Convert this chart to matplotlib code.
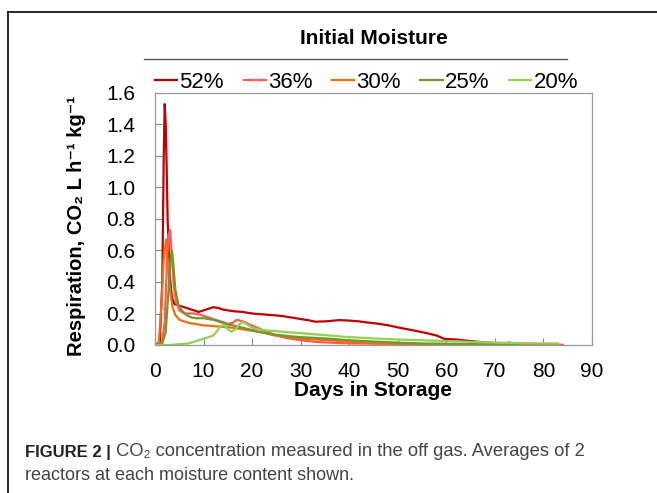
import matplotlib
matplotlib.use('Agg')
import matplotlib.pyplot as plt
from matplotlib.lines import Line2D

# Dados (dias, respiração)
d52 = [0, 1.0, 1.5, 1.8, 2.0, 2.2, 2.4, 2.6, 3.0, 3.5, 4, 5, 6, 7, 8, 9, 10, 11, 12, 13, 14, 16, 18, 20,
       22, 24, 26, 28, 30, 32, 33, 35, 38, 40, 42, 44, 46, 48, 50, 52, 54, 56, 58, 59.5, 60, 62, 64, 66,
       68, 70, 72, 73, 74, 76, 78, 80, 82, 84]
v52 = [0, 0.02, 0.4, 1.2, 1.53, 1.4, 1.13, 0.8, 0.45, 0.3, 0.26, 0.25, 0.24, 0.23, 0.22, 0.21, 0.22, 0.23,
       0.24, 0.235, 0.225, 0.215, 0.21, 0.2, 0.195, 0.19, 0.185, 0.175, 0.165, 0.155, 0.148, 0.15, 0.158,
       0.155, 0.15, 0.142, 0.135, 0.125, 0.112, 0.1, 0.088, 0.075, 0.06, 0.04, 0.038, 0.035, 0.028, 0.022,
       0.016, 0.012, 0.01, 0.015, 0.008, 0.006, 0.005, 0.004, 0.003, 0.0]

d36 = [0, 1.5, 2.0, 2.5, 2.8, 3.1, 3.4, 3.8, 4.3, 5, 6, 7, 8, 9, 10, 11, 12, 13, 14, 15, 16, 16.8, 17.5,
       18.5, 19.5, 21, 23, 25, 27, 30, 33, 36, 40, 45, 50, 55, 60, 65, 70, 72, 73, 74, 76, 80, 84]
v36 = [0, 0.02, 0.15, 0.55, 0.7, 0.73, 0.6, 0.4, 0.28, 0.22, 0.2, 0.2, 0.2, 0.195, 0.185, 0.175, 0.165,
       0.155, 0.145, 0.135, 0.14, 0.16, 0.155, 0.145, 0.13, 0.11, 0.085, 0.06, 0.045, 0.03, 0.02, 0.015,
       0.01, 0.008, 0.006, 0.005, 0.004, 0.004, 0.004, 0.008, 0.012, 0.006, 0.003, 0.002, 0.0]

d30 = [0, 0.8, 1.3, 1.8, 2.3, 2.7, 3.1, 3.6, 4.2, 5, 6, 7, 8, 9, 10, 12, 14, 16, 18, 20, 22, 24, 26, 28,
       30, 33, 36, 40, 45, 50, 55, 60, 65, 70, 75]
v30 = [0, 0.02, 0.25, 0.55, 0.67, 0.5, 0.35, 0.24, 0.19, 0.16, 0.15, 0.14, 0.135, 0.13, 0.125, 0.12,
       0.115, 0.11, 0.1, 0.09, 0.08, 0.065, 0.055, 0.045, 0.04, 0.035, 0.03, 0.02, 0.012, 0.008, 0.005,
       0.004, 0.003, 0.002, 0.0]

d25 = [0, 1.5, 2.2, 2.8, 3.2, 3.5, 3.8, 4.2, 4.8, 5.5, 6.5, 7.5, 8.5, 10, 11, 12, 13, 14, 15, 16, 18, 20,
       22, 25, 28, 30, 33, 36, 40, 45, 50, 55, 60, 65, 70, 75]
v25 = [0, 0.01, 0.08, 0.35, 0.55, 0.6, 0.5, 0.35, 0.26, 0.22, 0.19, 0.175, 0.17, 0.17, 0.165, 0.16, 0.15,
       0.14, 0.13, 0.125, 0.11, 0.095, 0.08, 0.065, 0.055, 0.05, 0.045, 0.04, 0.03, 0.022, 0.015, 0.01,
       0.008, 0.005, 0.003, 0.0]

d20 = [0, 3, 5, 7, 8, 9, 10, 11, 12, 12.8, 13.5, 14.2, 15, 15.7, 16.5, 17.3, 18.2, 19, 20, 21, 22, 24, 26,
       28, 30, 33, 36, 40, 45, 50, 55, 60, 65, 70, 75, 80, 83]
v20 = [0, 0.0, 0.005, 0.01, 0.02, 0.03, 0.04, 0.05, 0.06, 0.09, 0.12, 0.125, 0.1, 0.085, 0.1, 0.13, 0.145,
       0.13, 0.11, 0.1, 0.095, 0.09, 0.085, 0.08, 0.075, 0.068, 0.06, 0.05, 0.042, 0.035, 0.03, 0.025,
       0.02, 0.015, 0.012, 0.01, 0.01]

rotulos = ['52%', '36%', '30%', '25%', '20%']
cores = ['#C00000', '#FF5B5B', '#F07010', '#6E9A2A', '#92D050']

plt.rcParams['font.family'] = ['Liberation Sans', 'DejaVu Sans']

fig = plt.figure(figsize=(6.57, 4.93), dpi=100)
ax = fig.add_axes([155 / 657, 1 - 345 / 493, 437 / 657, 252 / 493])

series = [(d52, v52), (d36, v36), (d30, v30), (d25, v25), (d20, v20)]
for (d, v), lab, c in zip(series, rotulos, cores):
    ax.plot(d, v, color=c, lw=1.6, label=lab)

ax.set_xlim(0, 90)
ax.set_ylim(0, 1.6)
ax.set_xticks(range(0, 91, 10))
ax.set_yticks([i * 0.2 for i in range(9)])
ax.set_yticklabels([f'{i * 0.2:.1f}' for i in range(9)])
ax.tick_params(direction='in', length=5, color='#888888', labelsize=15, pad=12)
ax.tick_params(axis='y', pad=14)
for s in ax.spines.values():
    s.set_color('#999999')
    s.set_linewidth(0.9)

ax.set_xlabel('Days in Storage', fontsize=15, fontweight='bold', labelpad=0)
fig.text(76 / 657, 1 - 226 / 493, 'Respiration, CO\u2082 L h\u207b\u00b9 kg\u207b\u00b9',
         rotation=90, ha='center', va='center', fontsize=14.5, fontweight='bold')

leg = ax.legend(loc='lower left', bbox_to_anchor=(0.0, 1.0), ncol=5, frameon=False,
                fontsize=16, handlelength=1.0, handletextpad=0.1, columnspacing=0.88,
                borderaxespad=0, borderpad=0)

# título da legenda e linha
fig.text(374 / 657, 1 - 38 / 493, 'Initial Moisture', ha='center', va='center',
         fontsize=15, fontweight='bold')
fig.add_artist(Line2D([144 / 657, 567 / 657], [1 - 59 / 493] * 2, color='#555555', lw=1))

# moldura
fig.add_artist(Line2D([8 / 657, 1], [1 - 12 / 493] * 2, color='black', lw=1.2))
fig.add_artist(Line2D([8 / 657] * 2, [0, 1 - 12 / 493], color='black', lw=1.2))

# legenda da figura
cap = ['Liberation Sans', 'DejaVu Sans']
t1 = fig.text(25 / 657, 1 - 452 / 493, 'FIGURE 2 |', fontsize=12, fontweight='bold',
              family=cap, color='#222222', va='center')
ax.annotate(' CO\u2082 concentration measured in the off gas. Averages of 2', xy=(1, 0.5),
            xycoords=t1, va='center', fontsize=13.2, family=cap, color='#444444',
            annotation_clip=False)
fig.text(25 / 657, 1 - 476 / 493, 'reactors at each moisture content shown.', fontsize=13,
         family=cap, color='#444444', va='center')

plt.savefig('out.png', dpi=100)
plt.close()
